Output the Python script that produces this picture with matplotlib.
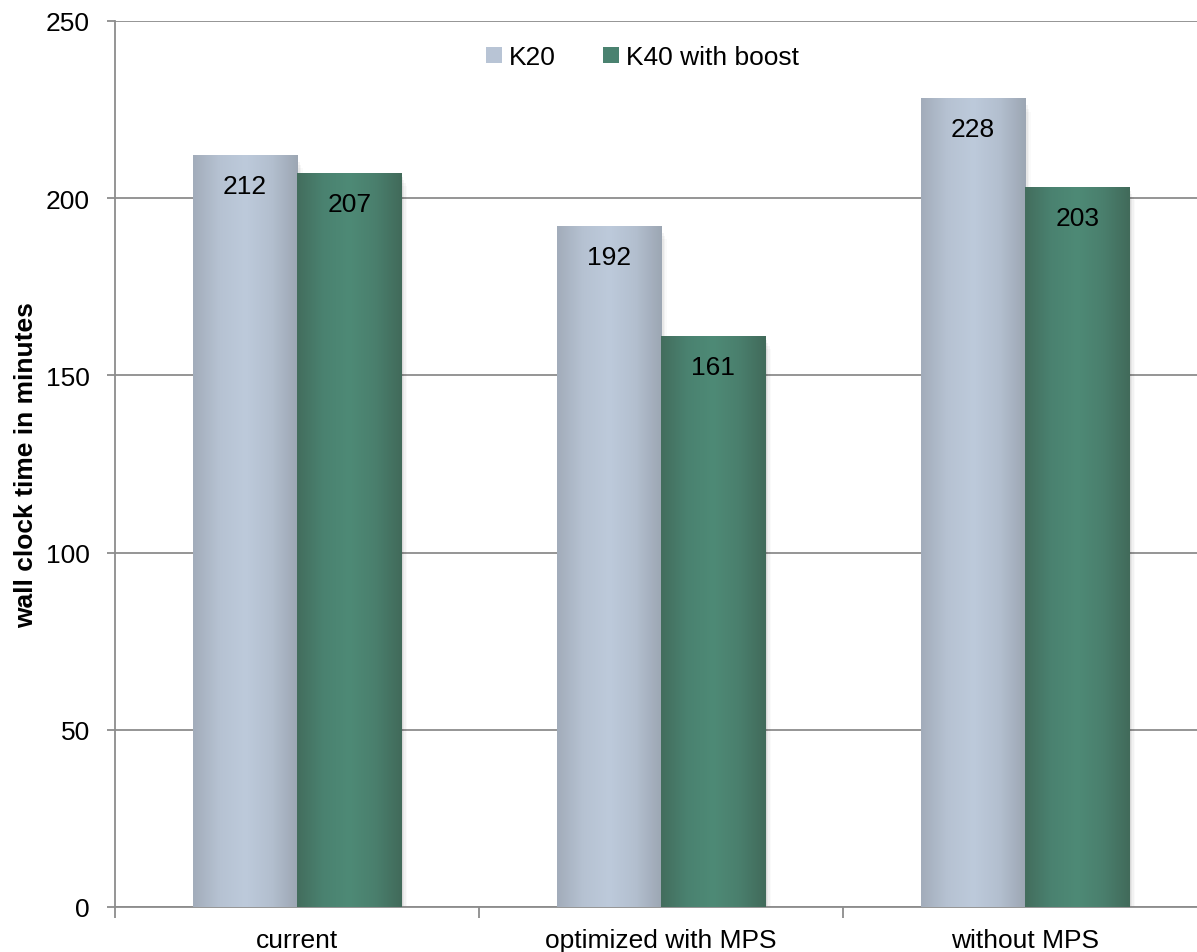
import matplotlib.pyplot as plt
import numpy as np
from matplotlib.colors import LinearSegmentedColormap
from matplotlib.patches import Patch, Rectangle

categories = ['current', 'optimized with MPS', 'without MPS']
k20 = [212, 192, 228]
k40 = [207, 161, 203]
series_names = ['K20', 'K40 with boost']

plt.rcParams['font.family'] = ['Liberation Sans', 'DejaVu Sans']
FS = 19

# horizontal "cylinder" shading, dark edge -> light middle -> dark edge
cm_k20 = LinearSegmentedColormap.from_list('k20', ['#a2acba', '#b6c2d2', '#bdcadb', '#b3bfcf', '#9ca6b3'])
cm_k40 = LinearSegmentedColormap.from_list('k40', ['#436d5d', '#4a8270', '#4e8a76', '#4a7f6d', '#416a5a'])
solid = ['#b8c4d5', '#4a8270']

fig = plt.figure(figsize=(11.97, 9.53), dpi=100)
ax = fig.add_axes([115/1197, 45/953, 1092/1197, 886/953])

w = 0.287
grad = np.linspace(0, 1, 256).reshape(1, -1)
x = np.arange(len(categories))
for vals, off, cmap in [(k20, -w/2, cm_k20), (k40, w/2, cm_k40)]:
    for xi, v in zip(x, vals):
        x0 = xi + off - w/2
        # soft shadow
        for k, a in enumerate([0.06, 0.045, 0.03, 0.02]):
            ax.add_patch(Rectangle((x0 + 0.004*(k+1), -0.9*(k+1)), w, v, color='black',
                                   alpha=a, lw=0, zorder=2))
        ax.imshow(grad, cmap=cmap, aspect='auto', extent=[x0, x0 + w, 0, v], zorder=3,
                  interpolation='bicubic')
        ax.text(xi + off, v - 8.5, str(v), ha='center', va='center', fontsize=FS, zorder=4)

ax.set_xlim(-0.5, 2.5)
ax.set_ylim(0, 250)
ax.set_yticks(np.arange(0, 251, 50))
ax.grid(axis='y', color='#8c8c8c', lw=1.3, zorder=1)
ax.set_axisbelow(True)

ax.set_xticks([-0.5, 0.5, 1.5, 2.5])
ax.set_xticklabels([])
ax.set_xticks(x, minor=True)
ax.set_xticklabels(categories, minor=True)
ax.tick_params(axis='x', which='major', length=8, width=1.3, color='#8c8c8c', direction='out')
ax.tick_params(axis='x', which='minor', length=0, pad=15, labelsize=FS)
ax.tick_params(axis='y', length=6, width=1.3, color='#8c8c8c', pad=12, labelsize=FS)

for s in ['top', 'right']:
    ax.spines[s].set_visible(False)
for s in ['left', 'bottom']:
    ax.spines[s].set_color('#8c8c8c')
    ax.spines[s].set_linewidth(1.3)

ax.set_ylabel('wall clock time in minutes', fontsize=FS, fontweight='bold', labelpad=6)

handles = [Patch(facecolor=solid[0], edgecolor='none'), Patch(facecolor=solid[1], edgecolor='none')]
ax.legend(handles, series_names, ncol=2, frameon=False, loc='center',
          bbox_to_anchor=(0.483, 0.959), fontsize=FS, handlelength=0.6, handleheight=0.6,
          handletextpad=0.25, columnspacing=1.8)

fig.savefig('out.png', dpi=100)
